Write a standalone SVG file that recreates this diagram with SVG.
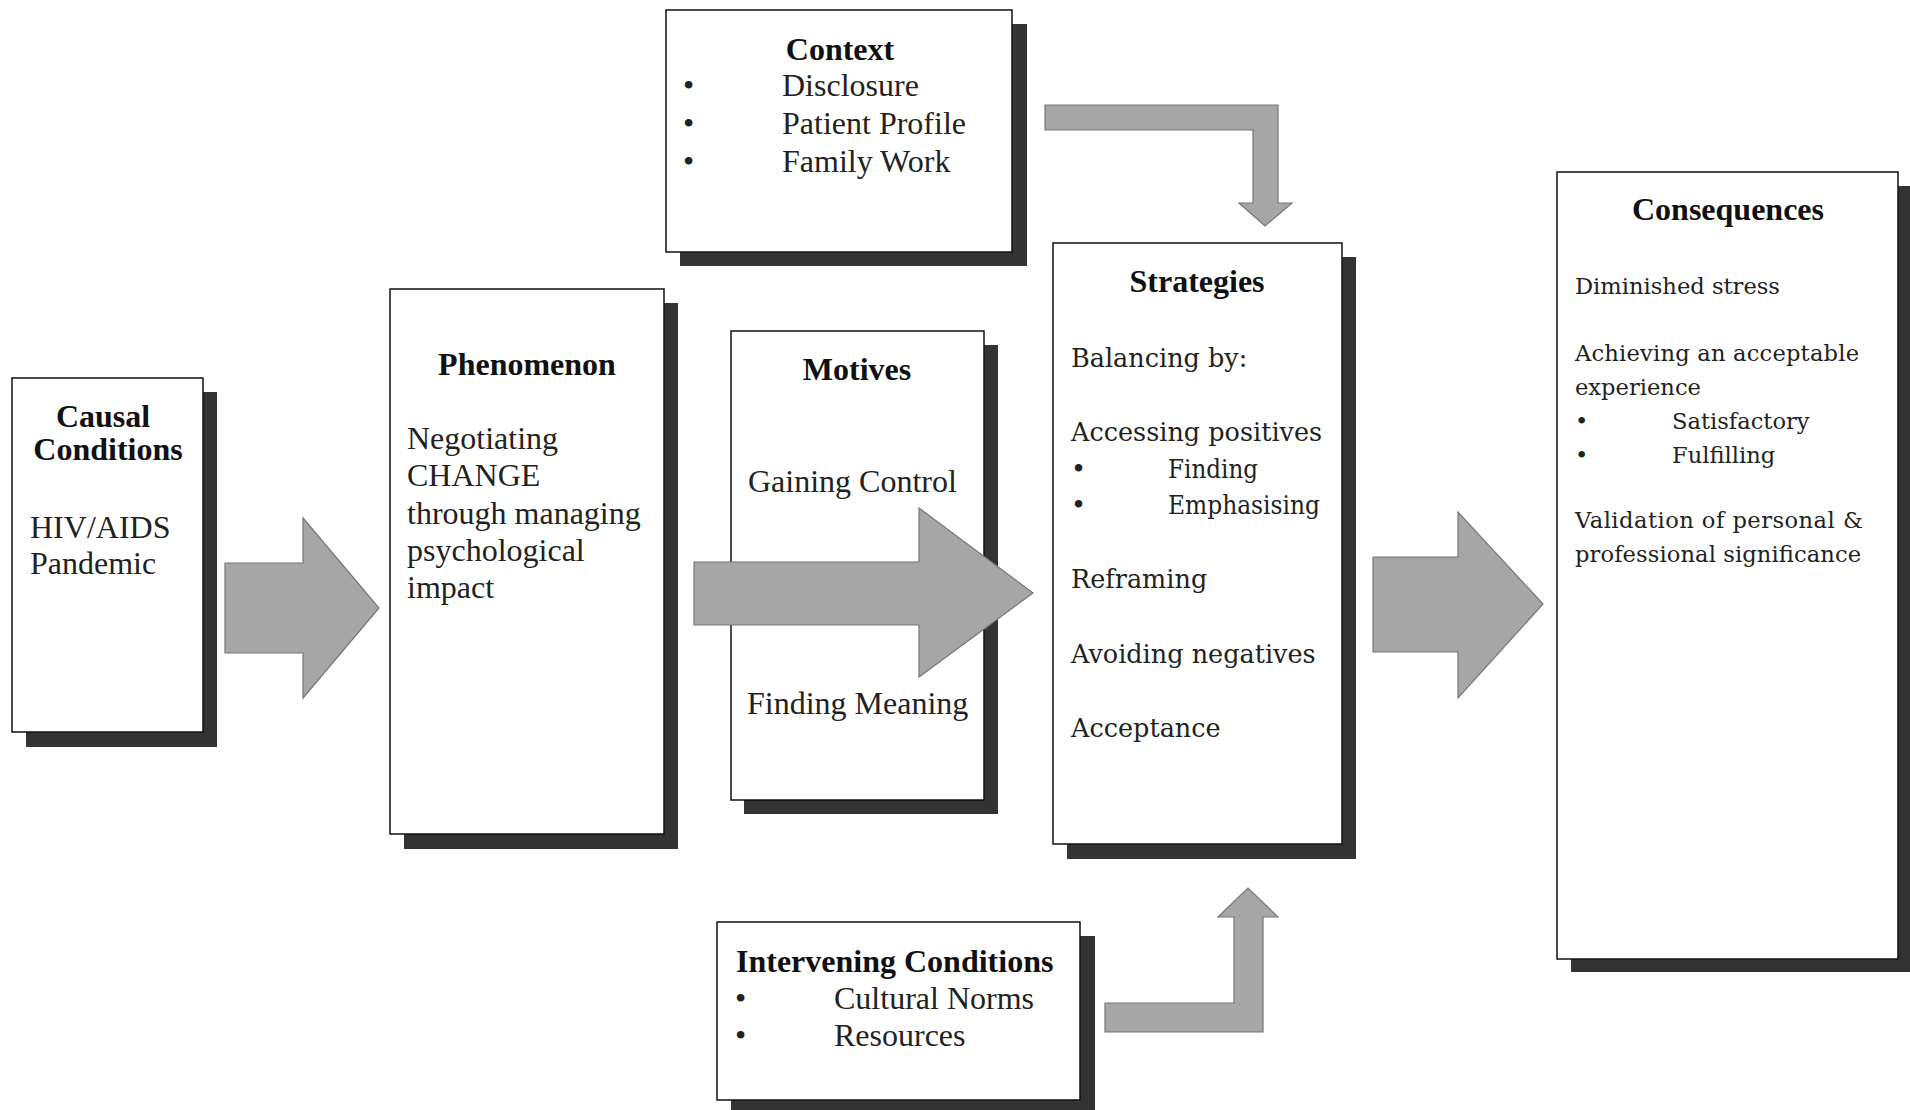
<svg xmlns="http://www.w3.org/2000/svg" width="1910" height="1110" viewBox="0 0 1910 1110">
<style>
.bg{fill:#ffffff}
.box{fill:#ffffff;stroke:#111;stroke-width:1.5}
.shadow{fill:#333333}
.arrow{fill:#a6a6a6;stroke:#777;stroke-width:1.2}
.t{font-family:"Liberation Serif","Times New Roman",serif;font-size:32px;fill:#222}
.b{font-family:"Liberation Serif","Times New Roman",serif;font-size:32px;font-weight:bold;fill:#111}
.s{font-family:"DejaVu Serif",serif;font-size:25.5px;fill:#222}
.c{font-family:"DejaVu Serif",serif;font-size:22.6px;fill:#222}
.m{text-anchor:middle}
</style>
<rect class="bg" x="0" y="0" width="1910" height="1110"/>

<g id="causal">
<rect class="shadow" x="26" y="392" width="191" height="355"/>
<rect class="box" x="12" y="378" width="191" height="354"/>
<text class="b m" x="103" y="427">Causal</text>
<text class="b m" x="108" y="460">Conditions</text>
<text class="t" x="30" y="538">HIV/AIDS</text>
<text class="t" x="30" y="574">Pandemic</text>
</g>

<g id="phenomenon">
<rect class="shadow" x="404" y="303" width="274" height="546"/>
<rect class="box" x="390" y="289" width="274" height="545"/>
<text class="b m" x="527" y="375">Phenomenon</text>
<text class="t" x="407" y="449">Negotiating</text>
<text class="t" x="407" y="486">CHANGE</text>
<text class="t" x="407" y="524">through managing</text>
<text class="t" x="407" y="561">psychological</text>
<text class="t" x="407" y="598">impact</text>
</g>

<g id="motives">
<rect class="shadow" x="744" y="345" width="254" height="469"/>
<rect class="box" x="731" y="331" width="253" height="469"/>
<text class="b m" x="857" y="380">Motives</text>
<text class="t" x="748" y="492">Gaining Control</text>
<text class="t" x="747" y="714">Finding Meaning</text>
</g>

<g id="context">
<rect class="shadow" x="680" y="24" width="347" height="242"/>
<rect class="box" x="666" y="10" width="346" height="242"/>
<text class="b m" x="840" y="60">Context</text>
<text class="t" x="683" y="96">•</text>
<text class="t" x="782" y="96">Disclosure</text>
<text class="t" x="683" y="134">•</text>
<text class="t" x="782" y="134">Patient Profile</text>
<text class="t" x="683" y="172">•</text>
<text class="t" x="782" y="172">Family Work</text>
</g>

<g id="strategies">
<rect class="shadow" x="1067" y="257" width="289" height="602"/>
<rect class="box" x="1053" y="243" width="289" height="601"/>
<text class="b m" x="1197" y="292">Strategies</text>
<text class="s" x="1071" y="367">Balancing by:</text>
<text class="s" x="1071" y="441">Accessing positives</text>
<text class="s" x="1071" y="478">•</text>
<text class="s" x="1168" y="478" textLength="90" lengthAdjust="spacingAndGlyphs">Finding</text>
<text class="s" x="1071" y="514">•</text>
<text class="s" x="1168" y="514" textLength="152" lengthAdjust="spacingAndGlyphs">Emphasising</text>
<text class="s" x="1071" y="588">Reframing</text>
<text class="s" x="1071" y="663">Avoiding negatives</text>
<text class="s" x="1071" y="737">Acceptance</text>
</g>

<g id="consequences">
<rect class="shadow" x="1571" y="186" width="341" height="786"/>
<rect class="box" x="1557" y="172" width="341" height="787"/>
<text class="b m" x="1728" y="220">Consequences</text>
<text class="c" x="1575" y="294">Diminished stress</text>
<text class="c" x="1575" y="361" textLength="284">Achieving an acceptable</text>
<text class="c" x="1575" y="395">experience</text>
<text class="c" x="1575" y="429">•</text>
<text class="c" x="1672" y="429">Satisfactory</text>
<text class="c" x="1575" y="463">•</text>
<text class="c" x="1672" y="463">Fulfilling</text>
<text class="c" x="1575" y="528" textLength="288">Validation of personal &amp;</text>
<text class="c" x="1575" y="562" textLength="286">professional significance</text>
</g>

<g id="intervening">
<rect class="shadow" x="731" y="936" width="364" height="178"/>
<rect class="box" x="717" y="922" width="363" height="178"/>
<text class="b" x="736" y="972">Intervening Conditions</text>
<text class="t" x="735" y="1009">•</text>
<text class="t" x="834" y="1009">Cultural Norms</text>
<text class="t" x="735" y="1046">•</text>
<text class="t" x="834" y="1046">Resources</text>
</g>

<g id="connectors">
<polygon class="arrow" points="225,563 303,563 303,518 379,608 303,698 303,653 225,653"/>
<polygon class="arrow" points="694,562 919,562 919,508 1033,593 919,677 919,625 694,625"/>
<polygon class="arrow" points="1373,557 1458,557 1458,512 1543,604 1458,698 1458,652 1373,652"/>
<polygon class="arrow" points="1045,105 1278,105 1278,203 1292,203 1265,226 1239,203 1253,203 1253,130 1045,130"/>
<polygon class="arrow" points="1105,1003 1234,1003 1234,917 1218,917 1248,888 1278,917 1263,917 1263,1032 1105,1032"/>
</g>
</svg>
